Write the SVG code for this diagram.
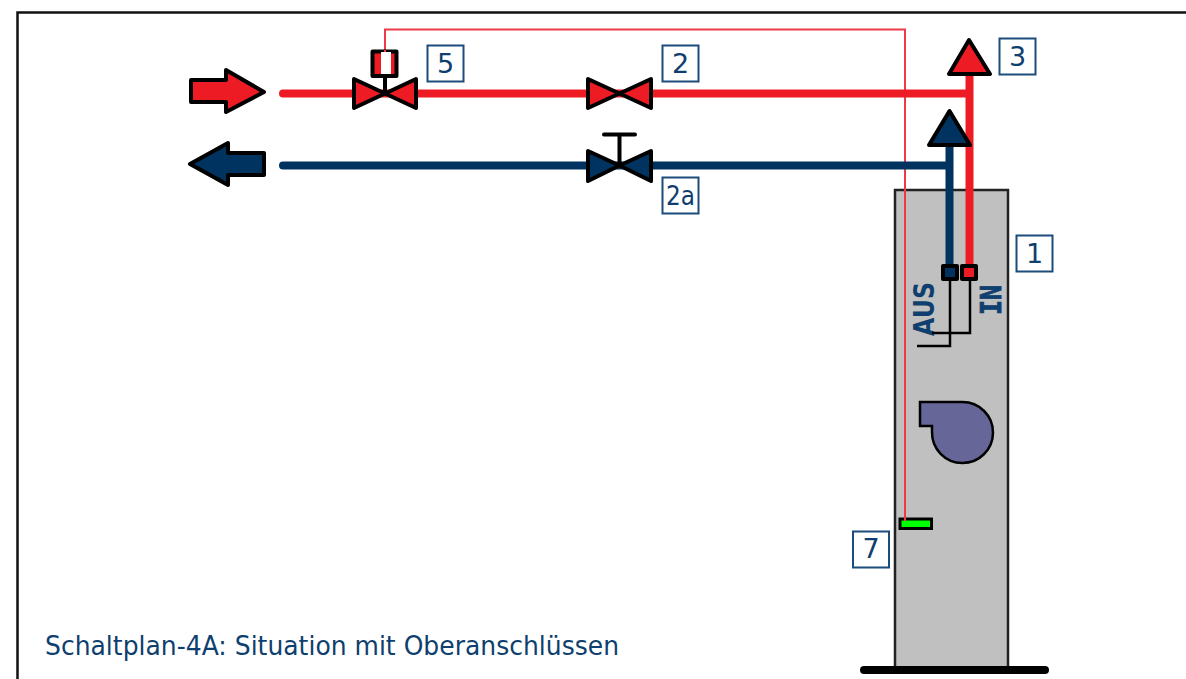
<svg xmlns="http://www.w3.org/2000/svg" width="1186" height="679" viewBox="0 0 1186 679">
<style>
.o{stroke:#000;stroke-width:4;stroke-linejoin:round;stroke-linecap:round}
.r{fill:#ed1c24}
.b{fill:#00335f}
.pr{stroke:#ed1c24;stroke-width:8;fill:none}
.pb{stroke:#00335f;stroke-width:8;fill:none}
.lb{fill:#fff;stroke:#1b4c7c;stroke-width:2}
.t{font-family:"DejaVu Sans",Verdana,sans-serif;fill:#0f3f6e}
.n{font-size:27px;text-anchor:middle}
.k{stroke:#000;stroke-width:2.500;fill:none}
.s{stroke:#ed3a48;stroke-width:2;fill:none}
</style>
<rect width="1186" height="679" fill="#fff"/>
<g id="frame"><path d="M17.500,679V12.500H1186" fill="none" stroke="#111" stroke-width="2.500"/></g>
<g id="unit-1">
<rect x="895" y="190" width="113" height="478" fill="#c0c0c0" stroke="#222" stroke-width="2.500"/>
<path d="M864,670H1045" stroke="#000" stroke-width="8" stroke-linecap="round"/>
<text class="t" font-weight="700" font-size="28" transform="translate(934,336) rotate(-90)" textLength="54" lengthAdjust="spacingAndGlyphs">AUS</text>
<text class="t" font-weight="700" font-size="28" style="font-family:'DejaVu Sans Mono',monospace;stroke:#0f3f6e;stroke-width:0.8" transform="translate(1001,315) rotate(-90)" textLength="30" lengthAdjust="spacingAndGlyphs">IN</text>
<path class="k" d="M950,280V346H917M970,280V333H932"/>
</g>
<g id="fan"><path d="M920,402H962.500A30.500,30.500 0 1 1 932,432V426H920Z" fill="#666699" stroke="#000" stroke-width="2.500"/></g>
<g id="connectors">
<path class="s" d="M385,50V29.500H905V520"/>
<path class="pr" d="M283,93.500H969.500"/>
<path class="pr" d="M969.500,70V272"/>
<path d="M283,89.500V97.500A4,4 0 0 1 283,89.500Z" class="r"/>
<path class="pb" d="M283,165.500H949.500"/>
<path class="pb" d="M949.500,140V272"/>
<path d="M283,161.500V169.500A4,4 0 0 1 283,161.500Z" class="b"/>
</g>
<g id="terminals">
<rect class="o b" x="943" y="266" width="14" height="13"/>
<rect class="o r" x="962" y="266" width="14" height="13"/>
</g>
<g id="arrow-in"><path class="o r" d="M191,80H226V70L264,92L226,112V102H191Z"/></g>
<g id="arrow-out"><path class="o b" d="M264,153H228V143L190,164L228,185V175H264Z"/></g>
<g id="valve-5">
<path class="o" d="M385,76V93" fill="none"/>
<rect x="372.500" y="51.500" width="24" height="24.500" class="o r"/>
<rect x="381" y="52" width="10" height="22" fill="#fff"/>
<path class="s" d="M385,50V52"/>
<path class="o r" d="M354,79L385,93.500L354,108ZM416,79L385,93.500L416,108Z"/>
</g>
<g id="valve-2"><path class="o r" d="M588,79L619.500,93.500L588,108ZM651,79L619.500,93.500L651,108Z"/></g>
<g id="valve-2a">
<path class="o" d="M604,134.500H635M619.500,134.500V165" fill="none"/>
<path class="o b" d="M588,151L619.500,165.500L588,181ZM651,151L619.500,165.500L651,181Z"/>
</g>
<g id="vent-red"><path class="o r" d="M969,40L990,74H949Z"/></g>
<g id="vent-blue"><path class="o b" d="M949.500,111L970,145H929Z"/></g>
<g id="sensor-7"><rect x="900" y="519" width="31.500" height="9.500" fill="#0f0" stroke="#000" stroke-width="3"/><path class="s" d="M905,517V521"/></g>
<g id="label-5"><rect class="lb" x="427.500" y="45.500" width="36" height="36"/><text class="t n" x="445.500" y="73">5</text></g>
<g id="label-2"><rect class="lb" x="662.500" y="45.500" width="36" height="36"/><text class="t n" x="680.500" y="73">2</text></g>
<g id="label-2a"><rect class="lb" x="662.500" y="177.500" width="36" height="36"/><text class="t n" x="680.500" y="205" textLength="29" lengthAdjust="spacingAndGlyphs">2a</text></g>
<g id="label-3"><rect class="lb" x="999.500" y="38.500" width="36" height="36"/><text class="t n" x="1017.500" y="66">3</text></g>
<g id="label-1"><rect class="lb" x="1016.500" y="235.500" width="36" height="36"/><text class="t n" x="1034.500" y="263">1</text></g>
<g id="label-7"><rect class="lb" x="853" y="531.500" width="36" height="36"/><text class="t n" x="871" y="558">7</text></g>
<text class="t" x="45" y="655" font-size="26" textLength="574" lengthAdjust="spacingAndGlyphs">Schaltplan-4A: Situation mit Oberanschlüssen</text>
</svg>
